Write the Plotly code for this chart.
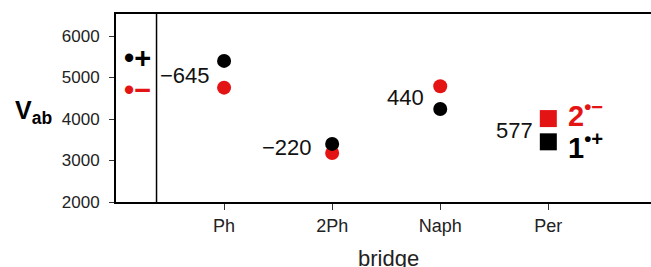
import plotly.graph_objects as go

bridges = ["Ph", "2Ph", "Naph", "Per"]
bridge_pos = [1, 2, 3, 4]
v_cation = [5400, 3400, 4240, 3450]   # black, 1•+
v_anion = [4755, 3180, 4790, 4010]    # red, 2•−
diff_labels = ["\u2212645", "\u2212220", "440", "577"]
y_ticks = [2000, 3000, 4000, 5000, 6000]

RED = "#e51414"
BLACK = "#000000"

fig = go.Figure()

sym = ["circle", "circle", "circle", "square"]
sizes = [14, 14, 14, 17]

fig.add_trace(go.Scatter(x=bridge_pos, y=v_anion, mode="markers",
                         marker=dict(color=RED, size=sizes, symbol=sym, opacity=1, line=dict(width=0)),
                         opacity=1, showlegend=False, cliponaxis=False, hoverinfo="skip"))
fig.add_trace(go.Scatter(x=bridge_pos, y=v_cation, mode="markers",
                         marker=dict(color=BLACK, size=sizes, symbol=sym, opacity=1, line=dict(width=0)),
                         opacity=1, showlegend=False, cliponaxis=False, hoverinfo="skip"))

font_main = "Arial, 'Liberation Sans', sans-serif"

lab_x = [0.89, 1.83, 2.87, 3.88]
lab_y = [5060, 3325, 4530, 3735]
for x, y, t in zip(lab_x, lab_y, diff_labels):
    fig.add_annotation(x=x, y=y, text=t, showarrow=False, xanchor="right", yanchor="middle",
                       font=dict(family=font_main, size=22, color="#111"))

fig.add_annotation(x=4.16, y=4120, text="<b>2<sup>\u2022\u2212</sup></b>", showarrow=False,
                   xanchor="left", yanchor="middle", font=dict(family=font_main, size=29, color=RED))
fig.add_annotation(x=4.16, y=3360, text="<b>1<sup>\u2022+</sup></b>", showarrow=False,
                   xanchor="left", yanchor="middle", font=dict(family=font_main, size=29, color=BLACK))

fig.add_annotation(x=0.06, y=5470, text="<b>\u2022+</b>", showarrow=False, xanchor="left",
                   yanchor="middle", font=dict(family=font_main, size=29, color=BLACK))
fig.add_annotation(x=0.06, y=4700, text="<b>\u2022\u2212</b>", showarrow=False, xanchor="left",
                   yanchor="middle", font=dict(family=font_main, size=29, color=RED))

fig.add_annotation(xref="paper", yref="paper", x=-0.155, y=0.48, text="<b>V<sub>ab</sub></b>",
                   showarrow=False, xanchor="center", yanchor="middle",
                   font=dict(family=font_main, size=25, color=BLACK))

fig.add_annotation(xref="paper", yref="paper", x=(388 - 116) / 535, y=-(244 - 202) / 188,
                   text="bridge", showarrow=False, xanchor="center", yanchor="top",
                   font=dict(family=font_main, size=22, color="#222"))

fig.add_shape(type="line", xref="x", yref="paper", x0=0.375, x1=0.375, y0=0, y1=1,
              line=dict(color=BLACK, width=1.5))

fig.update_layout(
    width=651, height=267,
    margin=dict(l=116, r=0, t=14, b=65, autoexpand=False),
    paper_bgcolor="white", plot_bgcolor="white",
    font=dict(family=font_main, color="#222"),
    hovermode=False,
    xaxis=dict(range=[0, 4.95], tickvals=bridge_pos, ticktext=bridges, automargin=False,
               showgrid=False, zeroline=False, showline=True, linecolor=BLACK, linewidth=2,
               mirror=True, ticks="outside", ticklen=6, tickcolor="#333",
               tickfont=dict(size=18, color="#222")),
    yaxis=dict(range=[2000, 6530], tickvals=y_ticks, showgrid=False, zeroline=False, automargin=False,
               showline=True, linecolor=BLACK, linewidth=2, ticks="outside", ticklen=5, mirror=False,
               tickcolor="#333", tickfont=dict(size=17, color="#222"), ticklabelstandoff=6),
)

fig.write_html("out.html",
               config={"displayModeBar": False, "staticPlot": True},
               post_script="document.body.style.margin='0';"
                           "document.documentElement.style.overflow='hidden';"
                           "document.body.style.overflow='hidden';")
